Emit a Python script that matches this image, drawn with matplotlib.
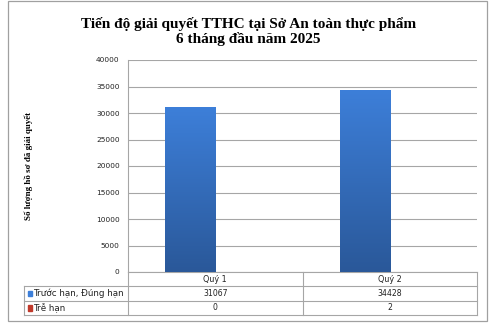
import matplotlib
matplotlib.use("Agg")
import matplotlib.pyplot as plt
import numpy as np
from matplotlib.colors import LinearSegmentedColormap
from matplotlib.patches import Rectangle

title = "Tiến độ giải quyết TTHC tại Sở An toàn thực phẩm\n6 tháng đầu năm 2025"
ylabel = "Số lượng hồ sơ đã giải quyết"
categories = ["Quý 1", "Quý 2"]
series_names = ["Trước hạn, Đúng hạn", "Trễ hạn"]
on_time = [31067, 34428]
late = [0, 2]
yticks = [0, 5000, 10000, 15000, 20000, 25000, 30000, 35000, 40000]

tick_font = "DejaVu Sans"
blue_top, blue_bottom = "#3d7fd9", "#2a5899"
red = "#c0392b"
grid_col = "#a6a6a6"

fig = plt.figure(figsize=(5, 3.3), dpi=100)
ax = fig.add_axes([128 / 500, 1 - 272 / 330, 349 / 500, 212 / 330])

x = np.arange(len(categories))
w = 0.287
bars = ax.bar(x - w / 2, on_time, w, color=blue_top, edgecolor="#4a8ae0", linewidth=0.6, zorder=2)
ax.bar(x + w / 2, late, w, color=red, zorder=2)

# vertical gradient inside the blue bars
cmap = LinearSegmentedColormap.from_list("g", [blue_bottom, blue_top])
grad = np.linspace(0, 1, 256).reshape(-1, 1)
for b in bars:
    x0, y0 = b.get_x(), b.get_y()
    im = ax.imshow(grad, cmap=cmap, origin="lower", aspect="auto",
                   extent=[x0, x0 + b.get_width(), y0, y0 + b.get_height()], zorder=2.5)
    im.set_clip_path(b)

ax.set_xlim(-0.5, len(categories) - 0.5)
ax.set_ylim(0, 40000)
ax.set_yticks(yticks)
ax.set_yticklabels([str(t) for t in yticks], fontsize=5.3, family=tick_font, color="#222222")
ax.set_xticks([])
ax.tick_params(axis="y", length=0, pad=6)
ax.yaxis.grid(True, color=grid_col, linewidth=0.8, zorder=0)
for s in ["top", "right", "bottom"]:
    ax.spines[s].set_visible(False)
ax.spines["left"].set_color(grid_col)
ax.spines["left"].set_linewidth(0.8)

ax.set_ylabel(ylabel, family="Liberation Serif", fontweight="bold", fontsize=6.5, labelpad=45)

fig.text(0.497, 0.905, title, ha="center", va="center", family="Liberation Serif",
         fontweight="bold", fontsize=11, linespacing=1.05)

# data table under the axis
tr = ax.transAxes
ypx = lambda p: (272 - p) / 212
xl = (24 - 128) / 349
r1, r2, r3 = ypx(286), ypx(301), ypx(315)
lk = dict(transform=tr, color=grid_col, linewidth=0.8, clip_on=False)
ax.plot([0, 0], [0, r3], **lk)
ax.plot([0.5, 0.5], [0, r3], **lk)
ax.plot([1, 1], [0, r3], **lk)
ax.plot([0, 1], [0, 0], **lk)
ax.plot([xl, xl], [r1, r3], **lk)
for yy in (r1, r2, r3):
    ax.plot([xl, 1], [yy, yy], **lk)

tk = dict(transform=tr, family=tick_font, color="#222222", va="center", clip_on=False)
cols = [0.25, 0.75]
for i, c in enumerate(categories):
    ax.text(cols[i], (0 + r1) / 2, c, ha="center", fontsize=5.8, **tk)
rows = [on_time, late]
row_y = [(r1 + r2) / 2, (r2 + r3) / 2]
keys = [blue_top, red]
for j, name in enumerate(series_names):
    ax.add_patch(Rectangle((xl + 0.012, row_y[j] - 0.012), 0.012, 0.024, transform=tr,
                           color=keys[j], clip_on=False))
    ax.text(xl + 0.027, row_y[j], name, ha="left", fontsize=6.3, **tk)
    for i in range(len(categories)):
        ax.text(cols[i], row_y[j], str(rows[j][i]), ha="center", fontsize=5.6, **tk)

fig.add_artist(Rectangle((8 / 500, 1 - 321 / 330), 479 / 500, 320 / 330, transform=fig.transFigure,
                         fill=False, edgecolor="#a0a0a0", linewidth=0.9))

fig.savefig("out.png", dpi=100, facecolor="white")
